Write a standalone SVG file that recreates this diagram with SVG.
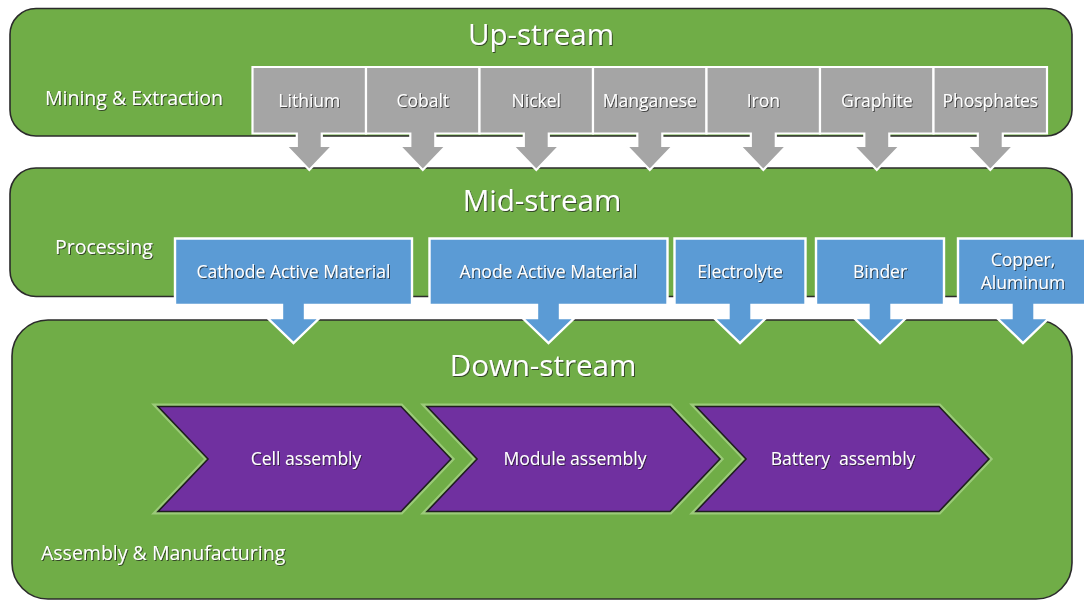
<svg xmlns="http://www.w3.org/2000/svg" width="1084" height="601" viewBox="0 0 1084 601">
  <defs>
    <filter id="ts" x="-10%" y="-30%" width="120%" height="160%">
      <feDropShadow dx="1" dy="1" stdDeviation="0.6" flood-color="#1a1a1a" flood-opacity="0.7"/>
    </filter>
    <style>
      .band { fill: #70AD47; stroke: #2b2b2b; stroke-width: 1.6; }
      .gray { fill: #A5A5A5; stroke: #FFFFFF; stroke-width: 2.2; stroke-linejoin: miter; }
      .blue { fill: #5B9BD5; stroke: #FFFFFF; stroke-width: 2.4; stroke-linejoin: miter; }
      .chev-halo { fill: none; stroke: #a9d48a; stroke-width: 6; stroke-linejoin: miter; opacity: 0.75; }
      .chev { fill: #7030A0; stroke: #1e1e1e; stroke-width: 1.6; stroke-linejoin: miter; }
      text { font-family: "Open Sans", "Noto Sans", "DejaVu Sans", sans-serif; fill: #FFFFFF; filter: url(#ts); }
      .title { font-size: 29.5px; text-anchor: middle; }
      .side { font-size: 19.5px; }
      .lbl { font-size: 17.5px; text-anchor: middle; }
    </style>
  </defs>
  <rect width="1084" height="601" fill="#FFFFFF"/>

  <!-- Bands -->
  <g id="upstream">
    <rect class="band" x="10" y="8.5" width="1062" height="127.5" rx="26" ry="26"/>
    <text class="title" x="541" y="45">Up-stream</text>
    <text class="side" x="45" y="105">Mining &amp; Extraction</text>
  </g>
  <g id="midstream">
    <rect class="band" x="10" y="168" width="1062" height="128.5" rx="26" ry="26"/>
    <text class="title" x="542" y="211">Mid-stream</text>
    <text class="side" x="55" y="254">Processing</text>
  </g>
  <g id="downstream">
    <rect class="band" x="12" y="320" width="1060" height="279" rx="36" ry="36"/>
    <text class="title" x="543" y="376">Down-stream</text>
    <text class="side" x="41" y="560">Assembly &amp; Manufacturing</text>
  </g>

  <!-- Up-stream raw materials (callouts with down arrows) -->
  <g id="lithium">
    <path class="gray" d="M252.5 67 H366 V133.5 H321.8 V146 H332.3 L309.3 170 L286.3 146 H296.8 V133.5 H252.5 Z"/>
    <text class="lbl" x="309.3" y="106.5">Lithium</text>
  </g>
  <g id="cobalt">
    <path class="gray" d="M366 67 H479.5 V133.5 H435.3 V146 H445.8 L422.8 170 L399.8 146 H410.3 V133.5 H366 Z"/>
    <text class="lbl" x="422.8" y="106.5">Cobalt</text>
  </g>
  <g id="nickel">
    <path class="gray" d="M479.5 67 H593 V133.5 H548.8 V146 H559.3 L536.3 170 L513.3 146 H523.8 V133.5 H479.5 Z"/>
    <text class="lbl" x="536.3" y="106.5">Nickel</text>
  </g>
  <g id="manganese">
    <path class="gray" d="M593 67 H706.5 V133.5 H662.3 V146 H672.8 L649.8 170 L626.8 146 H637.3 V133.5 H593 Z"/>
    <text class="lbl" x="649.8" y="106.5">Manganese</text>
  </g>
  <g id="iron">
    <path class="gray" d="M706.5 67 H820 V133.5 H775.8 V146 H786.3 L763.3 170 L740.3 146 H750.8 V133.5 H706.5 Z"/>
    <text class="lbl" x="763.3" y="106.5">Iron</text>
  </g>
  <g id="graphite">
    <path class="gray" d="M820 67 H933.5 V133.5 H889.3 V146 H899.8 L876.8 170 L853.8 146 H864.3 V133.5 H820 Z"/>
    <text class="lbl" x="876.8" y="106.5">Graphite</text>
  </g>
  <g id="phosphates">
    <path class="gray" d="M933.5 67 H1047 V133.5 H1002.8 V146 H1013.3 L990.3 170 L967.3 146 H977.8 V133.5 H933.5 Z"/>
    <text class="lbl" x="990.3" y="106.5">Phosphates</text>
  </g>

  <!-- Mid-stream processed materials (callouts with down arrows) -->
  <g id="cathode">
    <path class="blue" d="M175 238.5 H412 V305 H305 V318 H319.5 L293.5 343 L267.5 318 H282 V305 H175 Z"/>
    <text class="lbl" x="293.5" y="278">Cathode Active Material</text>
  </g>
  <g id="anode">
    <path class="blue" d="M429.5 238.5 H667.5 V305 H560 V318 H574.5 L548.5 343 L522.5 318 H537 V305 H429.5 Z"/>
    <text class="lbl" x="548.5" y="278">Anode Active Material</text>
  </g>
  <g id="electrolyte">
    <path class="blue" d="M674.5 238.5 H805.5 V305 H751.5 V318 H766 L740 343 L714 318 H728.5 V305 H674.5 Z"/>
    <text class="lbl" x="740" y="278">Electrolyte</text>
  </g>
  <g id="binder">
    <path class="blue" d="M816 238.5 H944 V305 H891.5 V318 H906 L880 343 L854 318 H868.5 V305 H816 Z"/>
    <text class="lbl" x="880" y="278">Binder</text>
  </g>
  <g id="copper-aluminum">
    <path class="blue" d="M958 238.5 H1088 V305 H1034.5 V318 H1049 L1023 343 L997 318 H1011.5 V305 H958 Z"/>
    <text class="lbl" x="1023" y="266">Copper,</text>
    <text class="lbl" x="1023" y="289">Aluminum</text>
  </g>

  <!-- Down-stream assembly chevrons -->
  <g id="cell-assembly">
    <path class="chev-halo" d="M158 406.5 H401 L451 459 L401 511.5 H158 L208 459 Z"/>
    <path class="chev" d="M158 406.5 H401 L451 459 L401 511.5 H158 L208 459 Z"/>
    <text class="lbl" x="306" y="465">Cell assembly</text>
  </g>
  <g id="module-assembly">
    <path class="chev-halo" d="M427 406.5 H670 L720 459 L670 511.5 H427 L477 459 Z"/>
    <path class="chev" d="M427 406.5 H670 L720 459 L670 511.5 H427 L477 459 Z"/>
    <text class="lbl" x="575" y="465">Module assembly</text>
  </g>
  <g id="battery-assembly">
    <path class="chev-halo" d="M696 406.5 H939 L989 459 L939 511.5 H696 L746 459 Z"/>
    <path class="chev" d="M696 406.5 H939 L989 459 L939 511.5 H696 L746 459 Z"/>
    <text class="lbl" x="843" y="465" xml:space="preserve">Battery  assembly</text>
  </g>

  <!-- Connectors: the flow arrows are built into the callout shapes above -->
  <g id="connectors"></g>
</svg>
